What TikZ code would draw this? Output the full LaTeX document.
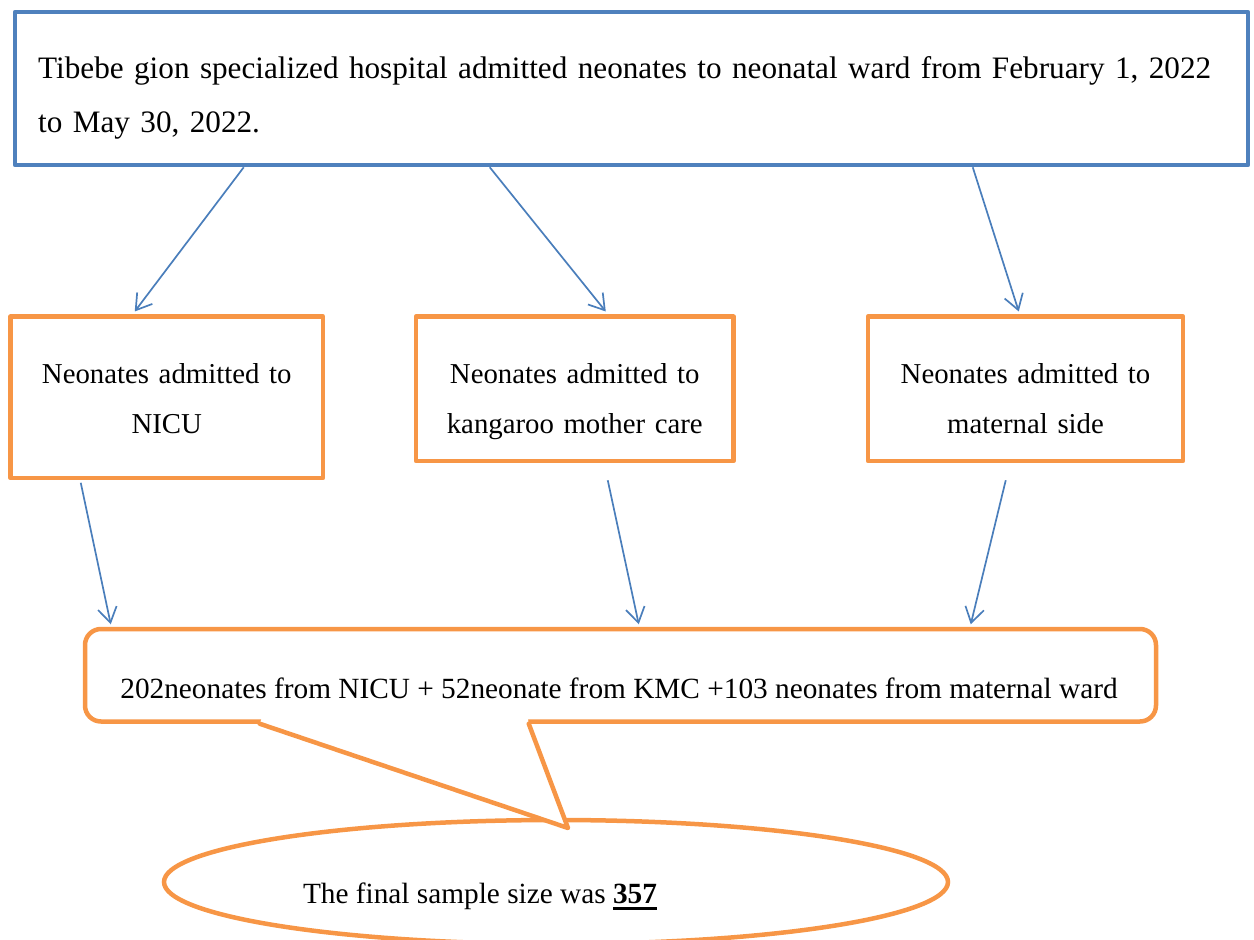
\documentclass[tikz,border=0pt]{standalone}
\usepackage{fontspec}
\setmainfont{Liberation Serif}
\usetikzlibrary{arrows.meta,calc,shapes.geometric}
\definecolor{wblue}{HTML}{4F81BD}
\definecolor{warrow}{HTML}{4A7EBB}
\definecolor{worange}{HTML}{F79646}
\newcommand\myul[1]{\setbox0\hbox{#1}\rlap{\rule[-6.5pt]{\wd0}{2.6pt}}\box0}
\begin{document}
\begin{tikzpicture}[x=1pt,y=-1pt,
  bluebox/.style={draw=wblue, line width=4.5pt, line join=round, inner sep=0pt, rectangle},
  obox/.style={draw=worange, line width=4.5pt, line join=round, inner sep=0pt, rectangle},
  ostroke/.style={draw=worange, line width=4.5pt, line join=round, line cap=round},
  conn/.style={draw=warrow, line width=1.7pt, -{Straight Barb[length=15pt,width=19pt]}},
  txt/.style={inner sep=0pt, font=\fontsize{29.3}{50}\selectfont},
  btxt/.style={inner sep=0pt, font=\fontsize{28.8}{50}\selectfont},
]
\useasboundingbox (0,0) rectangle (1254,940);
% top box
\node[bluebox, minimum width=1233pt, minimum height=153pt] (top) at (631.5,88.5) {};
\node[txt, anchor=base west, text width=1205pt, align=left, font=\fontsize{31.2}{54}\selectfont] (toptext) at (38,78)
  {Tibebe gion specialized hospital admitted neonates to neonatal ward from February 1, 2022\\to May 30, 2022.};
% three boxes
\node[obox, minimum width=312.5pt, minimum height=161.3pt] (b1) at (166.75,397.35) {};
\node[btxt, anchor=base, text width=310pt, align=center] (t1) at (166.75,383) {Neonates admitted to\\NICU};
\node[obox, minimum width=317.5pt, minimum height=144.3pt] (b2) at (574.75,388.85) {};
\node[btxt, anchor=base, text width=315pt, align=center] (t2) at (574.75,383) {Neonates admitted to\\kangaroo mother care};
\node[obox, minimum width=315pt, minimum height=144.3pt] (b3) at (1025.5,388.85) {};
\node[btxt, anchor=base, text width=312pt, align=center] (t3) at (1025.5,383) {Neonates admitted to\\maternal side};
% ellipse
\node[draw=worange, line width=4.5pt, ellipse, minimum width=784pt, minimum height=124pt, inner sep=0pt] (fin) at (556,882) {};
\node[txt, anchor=base] (fintext) at (480,903) {The final sample size was \myul{\textbf{357}}};
% callout
\node[draw=worange, fill=white, line width=4.5pt, rounded corners=16pt, minimum width=1071pt, minimum height=92.5pt, inner sep=0pt] (sum) at (620.5,675.25) {};
\coordinate (pl) at ($(sum.south west)+(177,0)$);
\coordinate (pr) at ($(sum.south west)+(446,0)$);
\coordinate (tip) at (568,828);
\fill[white] ($(pl)+(2,-6)$) -- ($(pr)+(-1,-6)$) -- (pr) -- (tip) -- (pl) -- cycle;
\draw[ostroke] (pl) -- (tip) -- (pr);
\node[txt, anchor=base] (sumtext) at (619,698) {202neonates from NICU + 52neonate from KMC +103 neonates from maternal ward};
% arrows
\draw[conn] ($(top.south west)+(231,0)$) -- ($(b1.north west)+(126.5,-3)$);
\draw[conn] ($(top.south west)+(477,0)$) -- ($(b2.north west)+(192,-3)$);
\draw[conn] ($(top.south west)+(960,0)$) -- ($(b3.north west)+(153,-3)$);
\draw[conn] ($(b1.south west)+(72.5,2.5)$) -- ($(sum.north west)+(28,-2.5)$);
\draw[conn] ($(b2.south west)+(194,17)$) -- ($(sum.north west)+(556,-2.5)$);
\draw[conn] ($(b3.south west)+(140,17)$) -- ($(sum.north west)+(888,-2.5)$);
\end{tikzpicture}
\end{document}
